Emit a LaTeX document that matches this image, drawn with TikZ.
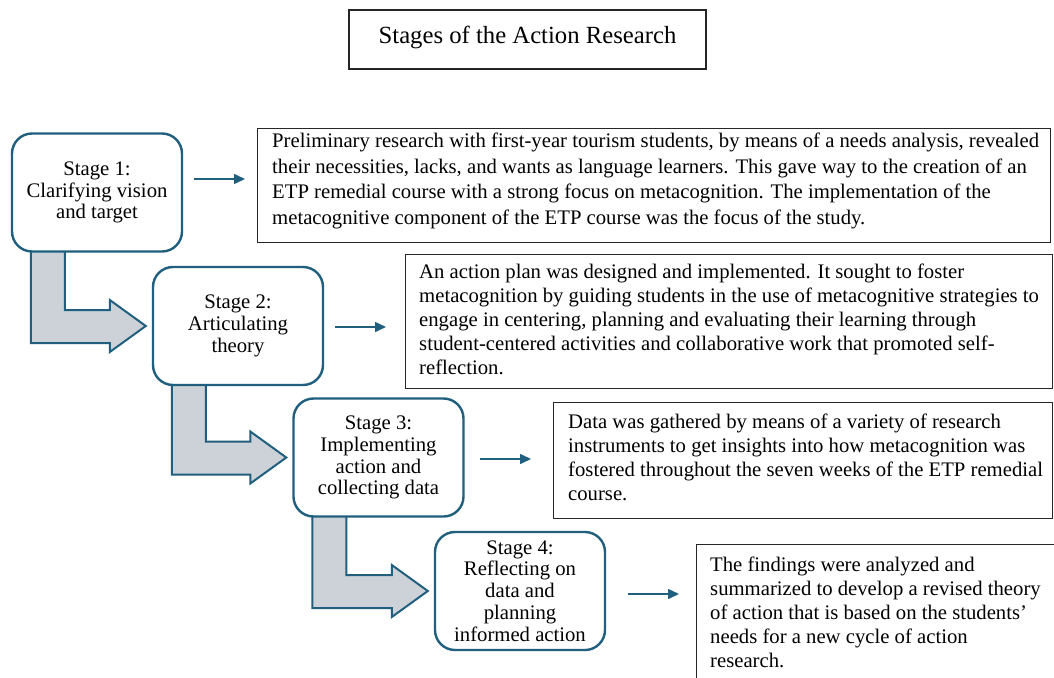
\documentclass[tikz,border=0pt]{standalone}
\usepackage{fontspec}
\setmainfont{Liberation Serif}
\usetikzlibrary{arrows.meta,calc,backgrounds}
\definecolor{teal1}{HTML}{215F7E}
\definecolor{grayfill}{HTML}{CDD2D9}
\tikzset{
  stagebox/.style={draw=teal1, line width=2.4pt, rounded corners=20pt, fill=white,
    minimum width=170pt, minimum height=118pt, align=center, inner sep=0pt,
    font=\rmfamily\fontsize{20.7pt}{21.8pt}\selectfont},
  textbox/.style={draw=black!85, line width=1.3pt, anchor=north west, inner sep=0pt},
  bodytext/.style={anchor=north west, align=left, inner sep=0pt,
    font=\rmfamily\fontsize{20.7pt}{24pt}\selectfont},
  titlebox/.style={draw=black!85, line width=1.3pt, minimum width=357pt, minimum height=59pt,
    inner sep=0pt, font=\rmfamily\fontsize{24.7pt}{28pt}\selectfont},
  smallarrow/.style={draw=teal1, line width=1.5pt, -{Triangle[length=11pt,width=10pt]}},
  bentarrow/.style={draw=teal1, line width=2pt, fill=grayfill, line join=miter},
}
\begin{document}
\begin{tikzpicture}[x=1pt,y=-1pt]
\useasboundingbox (0,0) rectangle (1054,677);
\clip (0,0) rectangle (1054,677);

% title
\node[titlebox] (title) at (527.5,39.5) {\raisebox{10pt}{Stages of the Action Research}};

% stage boxes
\node[stagebox] (s1) at (97,192.5) {Stage 1:\\Clarifying vision\\and target};
\node[stagebox] (s2) at (238,326) {Stage 2:\\Articulating\\theory};
\node[stagebox] (s3) at (378.5,457.5) {Stage 3:\\Implementing\\action and\\collecting data};
\node[stagebox] (s4) at (520,591) {Stage 4:\\Reflecting on\\data and\\planning\\informed action};

% text boxes
\node[textbox, minimum width=793pt, minimum height=114pt] (t1) at (257,128) {};
\node[textbox, minimum width=647pt, minimum height=134pt] (t2) at (405,254) {};
\node[textbox, minimum width=499pt, minimum height=116pt] (t3) at (553,402) {};
\node[textbox, minimum width=380pt, minimum height=160pt] (t4) at (696,544) {};

\node[bodytext, font=\rmfamily\fontsize{20.7pt}{25.6pt}\selectfont] (x1) at (272,133) {Preliminary research with first-year tourism students, by means of a needs analysis, revealed\\
their necessities, lacks, and wants as language learners. This gave way to the creation of an\\
ETP remedial course with a strong focus on metacognition. The implementation of the\\
metacognitive component of the ETP course was the focus of the study.};
\node[bodytext] (x2) at (419,264) {An action plan was designed and implemented. It sought to foster\\
metacognition by guiding students in the use of metacognitive strategies to\\
engage in centering, planning and evaluating their learning through\\
student-centered activities and collaborative work that promoted self-\\
reflection.};
\node[bodytext] (x3) at (568,414) {Data was gathered by means of a variety of research\\
instruments to get insights into how metacognition was\\
fostered throughout the seven weeks of the ETP remedial\\
course.};
\node[bodytext] (x4) at (710,557) {The findings were analyzed and\\
summarized to develop a revised theory\\
of action that is based on the students'\\
needs for a new cycle of action\\
research.};

% small arrows
\draw[smallarrow, shorten <=11pt, shorten >=12pt] ([yshift=13.5pt]s1.east) -- ([yshift=13.5pt]s1.east -| t1.west);
\draw[smallarrow, shorten <=11pt, shorten >=19pt] ([yshift=-1pt]s2.east) -- ([yshift=-1pt]s2.east -| t2.west);
\draw[smallarrow, shorten <=15pt, shorten >=22pt] ([yshift=-1.5pt]s3.east) -- ([yshift=-1.5pt]s3.east -| t3.west);
\draw[smallarrow, shorten <=22pt, shorten >=17pt] ([yshift=-3pt]s4.east) -- ([yshift=-3pt]s4.east -| t4.west);

% bent arrows
\begin{scope}[on background layer]
\fill[white] (0,0) rectangle (1054,677);
\foreach \a/\b in {s1/s2, s2/s3, s3/s4}{
  \path[bentarrow] let \p1=(\a.south west), \p2=(\b.west) in
    (\x1+20pt,\y1+4pt) -- (\x1+20pt,\y2-17pt) -- (\x2-42pt,\y2-17pt) -- (\x2-42pt,\y2-26pt)
    -- (\x2-6pt,\y2) -- (\x2-42pt,\y2+26pt) -- (\x2-42pt,\y2+16pt) -- (\x1+54pt,\y2+16pt)
    -- (\x1+54pt,\y1+4pt) -- cycle;
}
\end{scope}
\end{tikzpicture}
\end{document}
